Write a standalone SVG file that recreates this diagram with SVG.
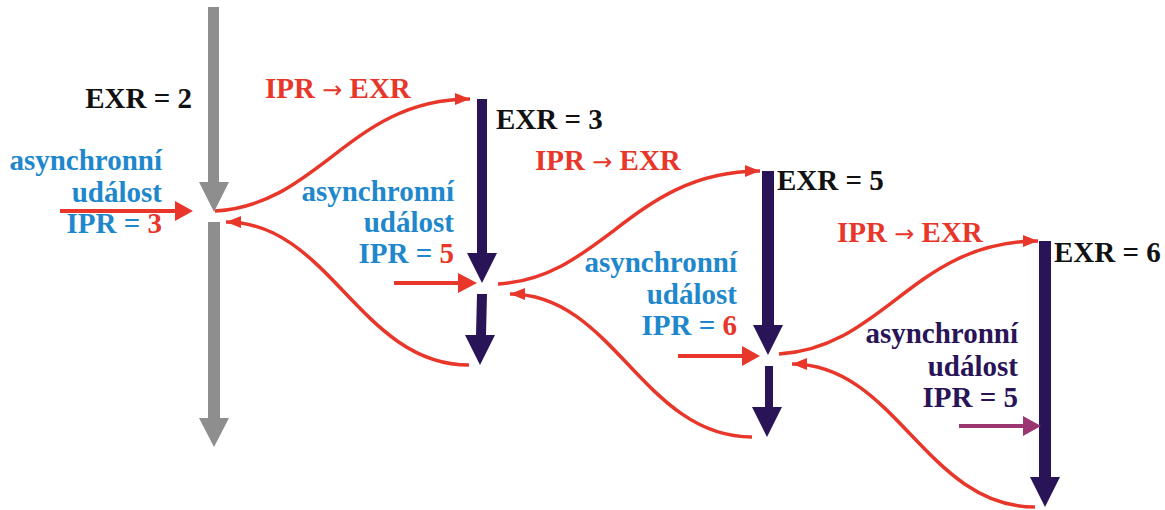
<svg xmlns="http://www.w3.org/2000/svg" width="1165" height="510" viewBox="0 0 1165 510">
<style>
text{font-family:"Liberation Serif","Times New Roman",serif;font-weight:bold;font-size:29px}
.k{fill:#111}
.r{fill:#E8372A}
.b{fill:#1F88CC}
.n{fill:#2A1458}
.e{text-anchor:end}
.ar{font-family:"DejaVu Sans",sans-serif;font-weight:normal;font-size:24px}
.curve{fill:none;stroke:#E8372A;stroke-width:3.5;marker-end:url(#ah)}
.line{fill:none;stroke:#E8372A;stroke-width:4}
</style>
<defs>
<marker id="ah" markerUnits="userSpaceOnUse" markerWidth="16" markerHeight="12" refX="15" refY="6" orient="auto">
<path d="M0,0 L15,6 L0,12 Z" fill="#E8372A"/>
</marker>
</defs>
<rect width="1165" height="510" fill="#fff"/>
<g id="gray-arrow" fill="#8E8E8E">
<path d="M208,7 H219 V182 H229 L214,212 L199,182 H208 Z"/>
<path d="M208,222 H220 V418 H229 L214,447 L199,418 H208 Z"/>
</g>
<g id="exr3-arrow" fill="#2A1458">
<path d="M477,99 H487 V253 H497 L482,283 L467,253 H477 Z"/>
<path d="M477,294 H487 L486,335 H495 L480,365 L465,335 H476 Z"/>
</g>
<g id="exr5-arrow" fill="#2A1458">
<path d="M762,171 H774 V325 H783 L768,355 L753,325 H762 Z"/>
<path d="M765,366 H773 V407 H782 L767,437 L752,407 H765 Z"/>
</g>
<g id="exr6-arrow" fill="#2A1458">
<path d="M1039,241 H1051 V477 H1060 L1045,507 L1030,477 H1039 Z"/>
</g>
<g id="connectors">
<path class="curve" d="M215,211 C320,205 350,99 470,99"/>
<path class="curve" d="M469,365 C360,365 330,222 226,222"/>
<path class="curve" d="M498,284 C603,278 633,171 760,171"/>
<path class="curve" d="M752,437 C643,437 614,294 510,294"/>
<path class="curve" d="M779,354 C884,348 914,241 1038,241"/>
<path class="curve" d="M1035,507 C926,507 896,364 792,364"/>
<line class="line" x1="60" y1="211" x2="177" y2="211"/>
<path d="M175,201 L193,211 L175,221 Z" fill="#E8372A"/>
<line class="line" x1="394" y1="283" x2="460" y2="283"/>
<path d="M458,273 L477,283 L458,293 Z" fill="#E8372A"/>
<line class="line" x1="678" y1="356" x2="744" y2="356"/>
<path d="M742,346 L760,356 L742,366 Z" fill="#E8372A"/>
<line x1="959" y1="426" x2="1025" y2="426" stroke="#9B3670" stroke-width="4"/>
<path d="M1023,416 L1041,426 L1023,436 Z" fill="#9B3670"/>
</g>
<g id="label-exr2"><text class="k e" x="192" y="108">EXR = 2</text></g>
<g id="label-ipr-exr-1"><text class="r" x="265" y="98">IPR <tspan class="ar">→</tspan> EXR</text></g>
<g id="label-async-1">
<text class="b e" x="162" y="170">asynchronní</text>
<text class="b e" x="162" y="202">událost</text>
<text class="b e" x="162" y="233">IPR = <tspan class="r">3</tspan></text>
</g>
<g id="label-exr3"><text class="k" x="496" y="129">EXR = 3</text></g>
<g id="label-async-2">
<text class="b e" x="454" y="201">asynchronní</text>
<text class="b e" x="454" y="232">událost</text>
<text class="b e" x="454" y="263">IPR = <tspan class="r">5</tspan></text>
</g>
<g id="label-ipr-exr-2"><text class="r" x="535" y="170">IPR <tspan class="ar">→</tspan> EXR</text></g>
<g id="label-exr5"><text class="k" x="777" y="190">EXR = 5</text></g>
<g id="label-async-3">
<text class="b e" x="737" y="272">asynchronní</text>
<text class="b e" x="737" y="304">událost</text>
<text class="b e" x="737" y="335">IPR = <tspan class="r">6</tspan></text>
</g>
<g id="label-ipr-exr-3"><text class="r" x="837" y="242">IPR <tspan class="ar">→</tspan> EXR</text></g>
<g id="label-exr6"><text class="k" x="1054" y="262">EXR = 6</text></g>
<g id="label-async-4">
<text class="n e" x="1018" y="343">asynchronní</text>
<text class="n e" x="1018" y="376">událost</text>
<text class="n e" x="1018" y="407">IPR = 5</text>
</g>
</svg>
